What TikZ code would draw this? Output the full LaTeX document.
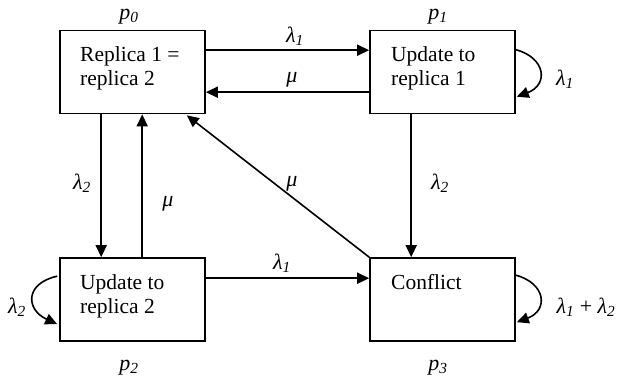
\documentclass[tikz,border=0pt]{standalone}
\usepackage{fontspec}
\setmainfont{Liberation Serif}
\usetikzlibrary{arrows.meta,calc}

\newcommand{\lam}[1]{\textit{λ}\textsubscript{\textit{#1}}}
\newcommand{\pst}[1]{\textit{p}\textsubscript{\textit{#1}}}

\begin{document}
\begin{tikzpicture}[x=1pt,y=-1pt,
  state/.style={draw, line width=1.6pt, rectangle, minimum width=145pt,
    minimum height=83pt, inner sep=0pt},
  boxtext/.style={anchor=base west, inner sep=0pt,
    font=\fontsize{21.5}{24}\selectfont},
  lbl/.style={inner sep=0pt, font=\fontsize{22}{24}\selectfont},
  conn/.style={line width=1.6pt, -{Triangle[length=12pt,width=11pt]}},
]
\useasboundingbox (0,0) rectangle (618,379);

% states of the replica pair
\node[state] (s0) at (132.5,72) {};
\node[state] (s1) at (442.5,72) {};
\node[state] (s2) at (132.5,299.5) {};
\node[state] (s3) at (442.5,299.5) {};

\node[boxtext] (t0a) at (80,62) {Replica 1 =};
\node[boxtext] (t0b) at (80,86) {replica 2};
\node[boxtext] (t1a) at (391,62) {Update to};
\node[boxtext] (t1b) at (391,86) {replica 1};
\node[boxtext] (t2a) at (80,289) {Update to};
\node[boxtext] (t2b) at (80,313) {replica 2};
\node[boxtext] (t3a) at (391,289) {Conflict};

% state probabilities
\node[lbl] (p0) at (129,17) {\pst{0}};
\node[lbl] (p1) at (438,17) {\pst{1}};
\node[lbl] (p2) at (129,368) {\pst{2}};
\node[lbl] (p3) at (438,368) {\pst{3}};

% transitions
\draw[conn] ($(s0.north east)+(0,20.5)$) -- ($(s1.north west)+(0,20.5)$);
\draw[conn] ($(s1.north west)+(0,62.5)$) -- ($(s0.north east)+(0,62.5)$);
\draw[conn] ($(s0.south west)+(42,0)$) -- ($(s2.north west)+(42,0)$);
\draw[conn] ($(s2.north west)+(83,0)$) -- ($(s0.south west)+(83,0)$);
\draw[conn] ($(s1.south west)+(42,0)$) -- ($(s3.north west)+(42,0)$);
\draw[conn] ($(s2.north east)+(0,21)$) -- ($(s3.north west)+(0,21)$);
\draw[conn] (s3.north west) -- ($(s0.south east)+(-19,1)$);

% self loops
\draw[conn] ($(s1.north east)+(0,20)$) .. controls ($(s1.north east)+(30,28)$)
  and ($(s1.north east)+(33,55)$) .. ($(s1.north east)+(1,67)$);
\draw[conn] ($(s3.north east)+(0,18)$) .. controls ($(s3.north east)+(30,26)$)
  and ($(s3.north east)+(33,53)$) .. ($(s3.north east)+(1,65)$);
\draw[conn] ($(s2.north west)+(-2,19)$) .. controls ($(s2.north west)+(-34,26)$)
  and ($(s2.north west)+(-34,52)$) .. ($(s2.north west)+(-2,67)$);

% rates
\node[lbl] (r01) at (295,36) {\lam{1}};
\node[lbl] (r10) at (292,80) {\textit{μ}};
\node[lbl] (r02) at (82,183) {\lam{2}};
\node[lbl] (r20) at (168,204) {\textit{μ}};
\node[lbl] (r30) at (292,184) {\textit{μ}};
\node[lbl] (r13) at (440,183) {\lam{2}};
\node[lbl] (r23) at (282,263) {\lam{1}};
\node[lbl] (r11) at (565,79) {\lam{1}};
\node[lbl] (r33) at (586,307) {\lam{1} + \lam{2}};
\node[lbl] (r22) at (17,307) {\lam{2}};
\end{tikzpicture}
\end{document}
